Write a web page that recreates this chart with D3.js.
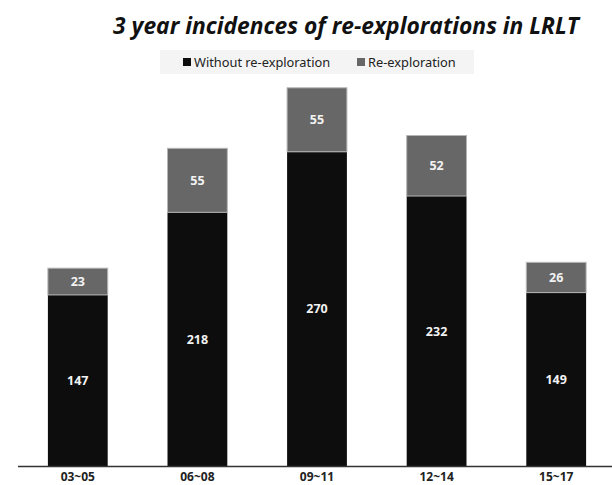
<!DOCTYPE html>
<html>
<head>
<meta charset="utf-8">
<script src="https://cdn.jsdelivr.net/npm/d3@7"></script>
<style>
  html, body { margin: 0; padding: 0; background: #fff; }
  svg { display: block; }
</style>
</head>
<body>
<svg id="chart" width="612" height="485"></svg>
<script>
// Three-year periods and case counts
const periods = ["03~05", "06~08", "09~11", "12~14", "15~17"];
const withoutReexploration = [147, 218, 270, 232, 149];
const reexploration = [23, 55, 55, 52, 26];
const seriesNames = ["Without re-exploration", "Re-exploration"];
const seriesColors = ["#0d0d0d", "#676767"];

const rows = periods.map((p, i) => ({
  period: p,
  without: withoutReexploration[i],
  re: reexploration[i]
}));

const svg = d3.select("#chart");
const baseY = 466;

const x = d3.scaleBand().domain(periods).range([18, 616]).paddingInner(0.5).paddingOuter(0.25);
const y = d3.scaleLinear().domain([0, 325]).range([baseY, 87.8]);

const stack = d3.stack().keys(["without", "re"]);
const layers = stack(rows);

// Title
svg.append("text")
  .attr("x", 346).attr("y", 34)
  .attr("text-anchor", "middle")
  .attr("font-family", "'Open Sans', sans-serif")
  .attr("font-size", 22.8)
  .attr("font-weight", "bold")
  .attr("font-style", "italic")
  .attr("fill", "#111")
  .text("3 year incidences of re-explorations in LRLT");

// Legend
const legend = svg.append("g");
legend.append("rect")
  .attr("x", 160).attr("y", 50).attr("width", 314).attr("height", 24)
  .attr("fill", "#f4f4f4");
const legendItems = [{ x: 183 }, { x: 357 }];
legendItems.forEach((d, i) => {
  legend.append("rect")
    .attr("x", d.x).attr("y", 58).attr("width", 8).attr("height", 8)
    .attr("fill", seriesColors[i]);
  legend.append("text")
    .attr("x", d.x + 11).attr("y", 66.5)
    .attr("font-family", "'Noto Sans', sans-serif")
    .attr("font-size", 12.8)
    .attr("fill", "#222")
    .text(seriesNames[i]);
});

// Bars
layers.forEach((layer, li) => {
  const g = svg.append("g");
  g.selectAll("rect").data(layer).join("rect")
    .attr("x", d => x(d.data.period))
    .attr("width", x.bandwidth())
    .attr("y", d => y(d[1]))
    .attr("height", d => y(d[0]) - y(d[1]))
    .attr("fill", seriesColors[li])
    .attr("stroke", li === 1 ? "#b5b5b5" : "none")
    .attr("stroke-width", li === 1 ? 1 : 0);
  g.selectAll("text").data(layer).join("text")
    .attr("x", d => x(d.data.period) + x.bandwidth() / 2)
    .attr("y", d => (y(d[0]) + y(d[1])) / 2 + 4.5)
    .attr("text-anchor", "middle")
    .attr("font-family", "'Open Sans', sans-serif")
    .attr("font-size", 12.5)
    .attr("font-weight", "bold")
    .attr("fill", "#f2f2f2")
    .text(d => d[1] - d[0]);
});

// Category axis
const axis = svg.append("g")
  .attr("transform", `translate(0,${baseY})`)
  .call(d3.axisBottom(x).tickSize(0).tickPadding(6));
axis.select(".domain").attr("stroke", "#333").attr("stroke-width", 1.5)
  .attr("d", `M18,0.5H612`);
axis.selectAll("text")
  .attr("font-family", "'Open Sans', sans-serif")
  .attr("font-size", 12)
  .attr("font-weight", "bold")
  .attr("fill", "#222");
</script>
</body>
</html>
